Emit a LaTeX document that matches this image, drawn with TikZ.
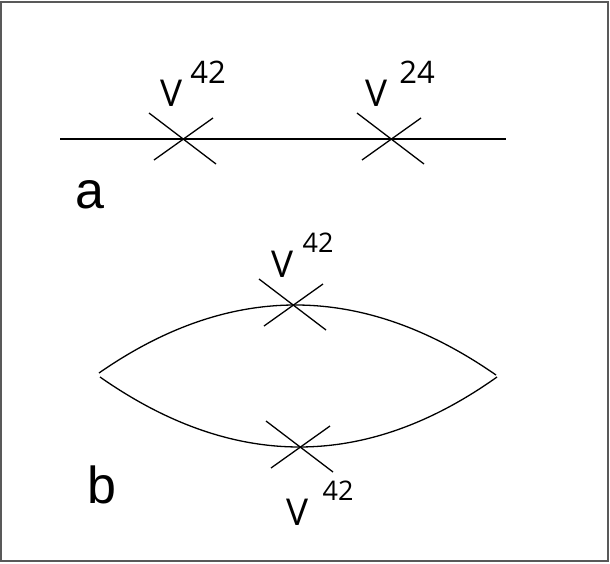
\documentclass[tikz,border=0pt]{standalone}
\usepackage{fontspec}
\setmainfont{Open Sans}
\newfontfamily\labfont{Liberation Sans}
\begin{document}
\begin{tikzpicture}[x=1pt,y=-1pt,
  line/.style={line width=1.3pt,black},
  vlab/.style={inner sep=0pt,font=\fontsize{37}{37}\selectfont},
  numA/.style={inner sep=0pt,font=\fontsize{31}{31}\selectfont},
  numB/.style={inner sep=0pt,font=\fontsize{27}{27}\selectfont},
  letter/.style={inner sep=0pt,font=\labfont\fontsize{52}{52}\selectfont},
  vertex/.pic={
    \draw[line] (-34,-26) -- (33,25);
    \draw[line] (30,-21) -- (-29,21);
  }]
\useasboundingbox (0,0) rectangle (610,563);
\draw[line width=1.4pt,gray!70!black] (1,2) rectangle (608,561);

% diagram a
\coordinate (aL) at (60,139);
\coordinate (aR) at (506,139);
\coordinate (x1) at (183,139);
\coordinate (x2) at (391,139);
\draw[line] (aL) -- (aR);
\pic at (x1) {vertex};
\pic at (x2) {vertex};
\node[vlab] (v1) at (172,93) {V};
\node[numA] (n1) at (208,72) {42};
\node[vlab] (v2) at (377,93) {V};
\node[numA] (n2) at (417,72) {24};
\node[letter] (la) at (90,194.5) {a};

% diagram b
\coordinate (uL) at (99,373);
\coordinate (uR) at (496,375);
\coordinate (dL) at (100,377);
\coordinate (dR) at (497,377);
\coordinate (x3) at (293,305);
\coordinate (x4) at (300,447);
\draw[line] (uL) .. controls (230.3,281.7) and (362.7,282.3) .. (uR);
\draw[line] (dL) .. controls (233.3,470.3) and (365.7,470.3) .. (dR);
\pic at (x3) {vertex};
\pic at (x4) {vertex};
\node[vlab] (v3) at (283,264) {V};
\node[numB] (n3) at (318,243) {42};
\node[vlab] (v4) at (297.5,512) {V};
\node[numB] (n4) at (338,490.5) {42};
\node[letter] (lb) at (102,485) {b};
\end{tikzpicture}
\end{document}
